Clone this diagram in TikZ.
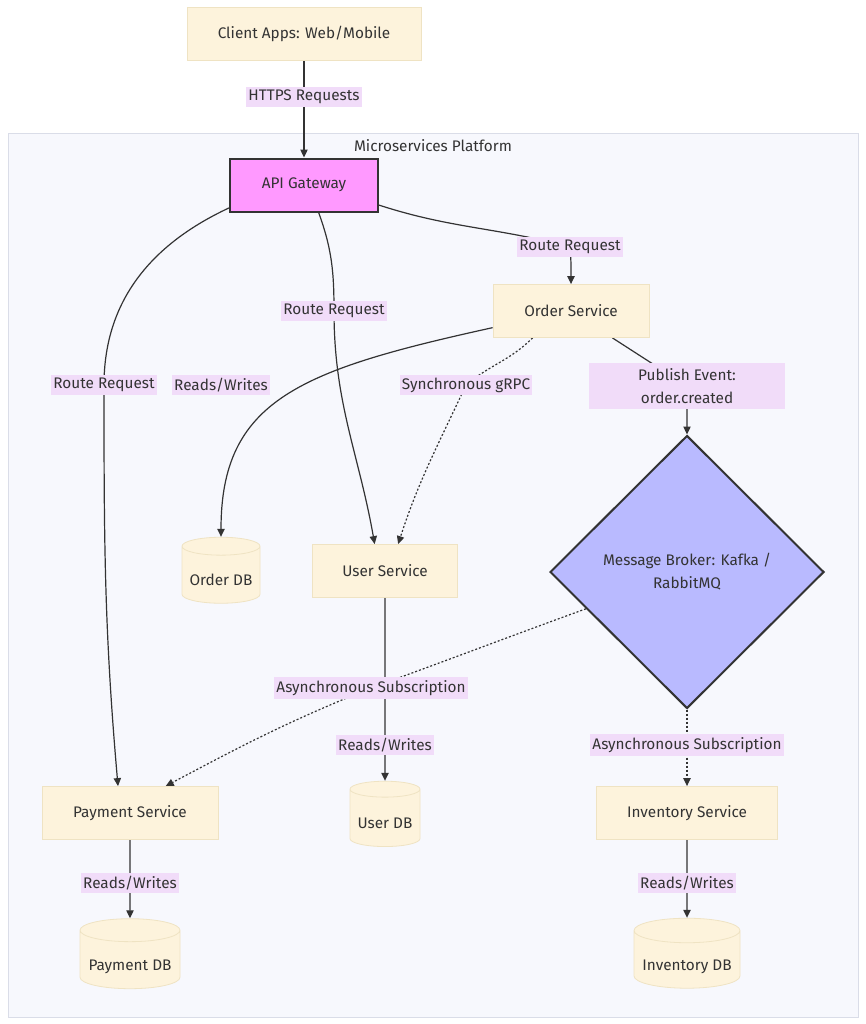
\documentclass[tikz,border=0pt]{standalone}
\usepackage{fontspec}
\setmainfont{Fira Sans}
\usetikzlibrary{positioning,arrows.meta,shapes.geometric}

\definecolor{nodefill}{HTML}{FDF3DC}
\definecolor{nodeline}{HTML}{EFE3C3}
\definecolor{gwfill}{HTML}{FF99FF}
\definecolor{brokerfill}{HTML}{B9BAFF}
\definecolor{lblfill}{HTML}{F1DCF9}
\definecolor{clusterfill}{HTML}{F7F8FD}
\definecolor{clusterline}{HTML}{DADDE8}
\definecolor{ink}{HTML}{333333}

\newcommand{\dgfont}{\fontsize{11.5}{17.25}\selectfont}

\pgfdeclarelayer{bg}
\pgfdeclarelayer{edges}
\pgfsetlayers{bg,edges,main}

\begin{document}
\begin{tikzpicture}[x=0.75pt, y=-0.75pt,
  svc/.style={draw=nodeline, fill=nodefill, line width=0.6pt, minimum height=39.75pt, text=ink, font=\dgfont},
  hub/.style={draw=ink, line width=1.5pt, text=ink, font=\dgfont},
  db/.style={cylinder, shape border rotate=90, aspect=0.25, draw=nodeline, fill=nodefill, line width=0.6pt, text=ink, font=\dgfont, text height=13.25pt, text depth=0pt},
  lbl/.style={fill=lblfill, text=ink, font=\dgfont, inner xsep=1.5pt, inner ysep=2.2pt, align=center},
  arr/.style={-{Triangle[length=6pt,width=5.5pt]}, draw=ink, line width=0.9pt},
  dots/.style={dash pattern=on 1.5pt off 1.5pt}
]
\useasboundingbox (0,0) rectangle (866,1024);

% cluster
\begin{pgfonlayer}{bg}
\fill[white] (0,0) rectangle (866,1024);
\draw[fill=clusterfill, draw=clusterline, line width=0.75pt] (8,133) rectangle (858,1017);
\end{pgfonlayer}
\node[text=ink, font=\dgfont] (cltitle) at (433,146) {Microservices Platform};

% nodes
\node[svc, minimum width=175.5pt] (client) at (304,34) {Client Apps: Web/Mobile};
\node[hub, fill=gwfill, minimum width=111pt, minimum height=39.75pt] (gw) at (304,185) {API Gateway};
\node[svc, minimum width=117pt] (order) at (571,311) {Order Service};
\node[svc, minimum width=109pt] (user) at (385,571) {User Service};
\node[hub, fill=brokerfill, diamond, aspect=1, inner sep=0pt, minimum width=205.5pt, minimum height=204.75pt, align=center] (broker) at (687,572) {Message Broker: Kafka /\\RabbitMQ};
\node[svc, minimum width=132pt] (pay) at (130,813) {Payment Service};
\node[svc, minimum width=136pt] (inv) at (687,813) {Inventory Service};

\node[db, minimum width=58.5pt, minimum height=49.5pt] (odb) at (221,577) {Order DB};
\node[db, minimum width=52.5pt, minimum height=49pt] (udb) at (385,820) {User DB};
\node[db, minimum width=75pt, minimum height=52.5pt] (pdb) at (130,962) {Payment DB};
\node[db, minimum width=79.5pt, minimum height=52.5pt] (idb) at (687,962) {Inventory DB};

% edge labels
\node[lbl] (lhttps) at (304,97) {HTTPS Requests};
\node[lbl] (lroute1) at (570,247) {Route Request};
\node[lbl] (lroute2) at (334,311) {Route Request};
\node[lbl] (lroute3) at (104,385) {Route Request};
\node[lbl] (lrwo) at (221,385) {Reads/Writes};
\node[lbl] (lgrpc) at (466,385) {Synchronous gRPC};
\node[lbl, minimum width=147pt, minimum height=34.5pt] (lpub) at (687,386) {Publish Event:\\order.created};
\node[lbl] (lsub1) at (371,688) {Asynchronous Subscription};
\node[lbl] (lrwu) at (385,745) {Reads/Writes};
\node[lbl] (lsub2) at (687,745) {Asynchronous Subscription};
\node[lbl] (lrwp) at (130,883) {Reads/Writes};
\node[lbl] (lrwi) at (687,883) {Reads/Writes};

% connectors
\begin{pgfonlayer}{edges}
\draw[arr] (client.south) -- (gw.north);
\draw[arr] (gw.-15) to[out=-18,in=165] (lroute1.center) to[out=-85,in=90] (order.north);
\draw[arr] (gw.-62) to[out=-70,in=90] (lroute2.center) to[out=-90,in=100] (user.111);
\draw[arr] (gw.-163) to[out=205,in=90] (lroute3.center) to[out=-90,in=95] (pay.114);
\draw[arr] (order.-168) .. controls (300,370) and (221,400) .. (odb.north);
\draw[arr, dots] (order.-145) to[out=-135,in=40] (lgrpc.center) to[out=-115,in=72] (user.64);
\draw[arr] (order.-33) -- (lpub.center) -- (broker.north);
\draw[arr, dots] (broker.-160) to[out=200,in=20] (lsub1.center) to[out=202,in=28] (pay.37);
\draw[arr, dots] (broker.south) -- (inv.north);
\draw[arr] (user.south) -- (udb.north);
\draw[arr] (pay.south) -- (pdb.north);
\draw[arr] (inv.south) -- (idb.north);
\end{pgfonlayer}

\end{tikzpicture}
\end{document}
